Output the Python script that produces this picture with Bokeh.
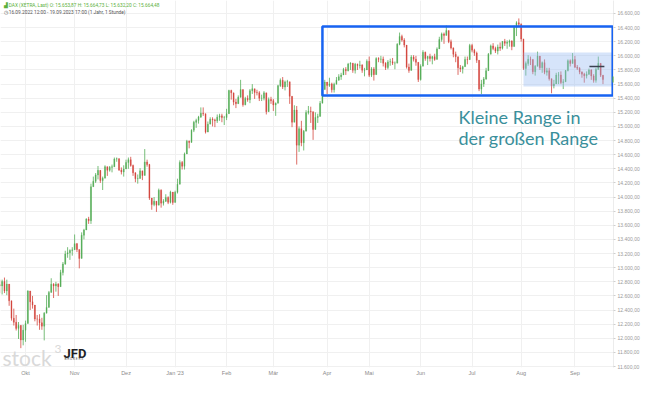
import numpy as np
import pandas as pd
from bokeh.plotting import figure
from bokeh.models import Range1d, FixedTicker, Label
from bokeh.embed import file_html
from bokeh.resources import INLINE

# ---------------- data (DAX, XETRA, daily OHLC) ----------------
first_open = 12760
holidays = ["2022-12-26", "2023-04-07", "2023-04-10", "2023-05-01"]

close = [
    12741, 12803, 12671, 12767, 12531, 12284, 12227, 12140, 12183, 11976, 12114,
    12209, 12670, 12517, 12471, 12273, 12272, 12220, 12172, 12355, 12437, 12649, 12766, 12741, 12767, 12731, 12931, 13052, 13195, 13211, 13243, 13253,
    13339, 13257, 13131, 13460, 13533, 13688, 13666, 14146, 14224, 14313, 14378, 14234, 14267, 14431, 14380, 14422, 14428, 14539, 14541, 14383, 14355, 14397,
    14490, 14529, 14447, 14343, 14261, 14264, 14371, 14306, 14497, 14460, 13987, 13893, 13942, 13885, 14098, 13914, 13941, 13995, 13925, 14071, 13924,
    14069, 14181, 14490, 14436, 14610, 14792, 14774, 14948, 15058, 15086, 15134, 15187, 15181, 14920, 15033, 15103, 15093, 15081, 15132, 15150, 15126, 15128,
    15180, 15509, 15476, 15345, 15321, 15412, 15523, 15308, 15397, 15380, 15507, 15534, 15482, 15477, 15399, 15400, 15476, 15210, 15382, 15365,
    15305, 15328, 15578, 15654, 15559, 15631, 15633, 15428, 15060, 15233, 14735, 14968, 14768, 14933, 15196, 15216, 15210, 14957, 15128, 15142, 15329, 15522, 15629,
    15581, 15603, 15520, 15598, 15655, 15704, 15729, 15808, 15790, 15883, 15896, 15795, 15882, 15864, 15872, 15796, 15800, 15922,
    15726, 15815, 15734, 15961, 15953, 15955, 15896, 15834, 15914, 15917, 15897, 15897, 16163, 16275, 16223, 16153, 15842, 15794, 15983, 15952, 15909, 15664,
    15853, 16051, 15963, 15992, 15961, 15989, 15950, 16098, 16231, 16311, 16290, 16358, 16201, 16111, 16023, 15988, 15830, 15813, 15846, 15949, 15946, 16148,
    16081, 16039, 15938, 15529, 15603, 15673, 15790, 16023, 16141, 16105, 16068, 16125, 16109, 16204, 16177, 16191, 16211, 16131, 16406, 16469, 16447,
    16240, 15820, 15893, 15952, 15950, 15775, 15852, 15997, 15832, 15904, 15768, 15789, 15677, 15574, 15603, 15728, 15729, 15622, 15632, 15792, 15931, 15892, 15947,
    15840, 15825, 15772, 15741, 15718, 15740, 15800, 15715, 15654, 15805, 15894, 15727, 15664.48,
]
high = [
    12830, 12830, 12860, 12830, 12650, 12520, 12420, 12330, 12230, 12130, 12190,
    12250, 12680, 12620, 12600, 12450, 12330, 12340, 12290, 12370, 12610, 12670, 12850, 12780, 12800, 12780, 12970, 13080, 13240, 13290, 13260, 13290,
    13470, 13350, 13200, 13500, 13550, 13700, 13720, 14190, 14290, 14340, 14440, 14380, 14290, 14450, 14420, 14440, 14460, 14560, 14560, 14550, 14420, 14450,
    14530, 14560, 14570, 14460, 14350, 14320, 14410, 14370, 14680, 14530, 14470, 13970, 14000, 13930, 14120, 14110, 13970, 14040, 14010, 14090, 14070,
    14090, 14260, 14520, 14510, 14630, 14810, 14800, 14960, 15080, 15110, 15150, 15270, 15270, 15110, 15070, 15130, 15130, 15110, 15170, 15180, 15180, 15150,
    15250, 15520, 15520, 15420, 15390, 15440, 15660, 15460, 15420, 15440, 15530, 15600, 15510, 15520, 15500, 15450, 15500, 15390, 15410, 15420,
    15390, 15340, 15590, 15680, 15700, 15650, 15660, 15540, 15330, 15300, 15290, 15000, 15080, 14950, 15230, 15290, 15280, 15160, 15200, 15180, 15360, 15540, 15660,
    15620, 15690, 15620, 15620, 15700, 15740, 15760, 15830, 15840, 15900, 15910, 15900, 15900, 15890, 15930, 15880, 15830, 15950,
    15990, 15840, 15840, 15980, 15980, 16000, 15990, 15910, 15940, 15960, 15970, 15920, 16180, 16330, 16300, 16250, 16130, 15890, 16010, 16010, 16000, 15870,
    15880, 16080, 16060, 16000, 16030, 16000, 16030, 16120, 16270, 16330, 16330, 16430, 16330, 16230, 16120, 16060, 15960, 15870, 15860, 15990, 15990, 16170,
    16170, 16100, 16060, 15940, 15660, 15700, 15830, 16040, 16160, 16180, 16130, 16160, 16190, 16210, 16240, 16220, 16230, 16220, 16430, 16490, 16530,
    16460, 16240, 15920, 16010, 15990, 15920, 15870, 16060, 15970, 15920, 15950, 15830, 15830, 15640, 15660, 15760, 15770, 15780, 15670, 15800, 15950, 15950, 16040,
    16000, 15870, 15840, 15780, 15760, 15780, 15820, 15810, 15740, 15830, 15990, 15820, 15720,
]
low = [
    12640, 12620, 12640, 12610, 12460, 12250, 12180, 12110, 11990, 11860, 11900,
    11950, 12400, 12400, 12420, 12240, 12180, 12120, 12120, 11970, 12380, 12460, 12680, 12570, 12660, 12600, 12750, 12890, 13040, 13140, 13110, 13170,
    13300, 13220, 12990, 13140, 13400, 13540, 13620, 13620, 14150, 14200, 14250, 14200, 14100, 14270, 14300, 14360, 14350, 14440, 14500, 14370, 14320, 14290,
    14410, 14400, 14430, 14300, 14210, 14190, 14260, 14240, 14330, 14430, 13960, 13820, 13870, 13790, 13910, 13850, 13880, 13930, 13900, 13910, 13890,
    13950, 14050, 14250, 14390, 14390, 14640, 14690, 14800, 14920, 14980, 15040, 15120, 15150, 14900, 14950, 15040, 15000, 14990, 15050, 15080, 15060, 15020,
    15090, 15290, 15380, 15300, 15260, 15340, 15480, 15280, 15300, 15350, 15330, 15460, 15390, 15440, 15360, 15360, 15370, 15170, 15280, 15320,
    15220, 15150, 15370, 15560, 15530, 15510, 15560, 15320, 14990, 15070, 14460, 14640, 14720, 14660, 14990, 15170, 15050, 14810, 15010, 15050, 15200, 15380, 15550,
    15460, 15560, 15480, 15480, 15600, 15650, 15660, 15730, 15730, 15780, 15800, 15760, 15750, 15800, 15820, 15760, 15710, 15800,
    15700, 15700, 15650, 15780, 15910, 15900, 15850, 15800, 15810, 15860, 15870, 15810, 15950, 16150, 16200, 16120, 15820, 15760, 15800, 15920, 15860, 15630,
    15650, 15900, 15930, 15870, 15920, 15880, 15930, 15980, 16110, 16200, 16170, 16290, 16180, 16090, 15980, 15910, 15730, 15770, 15750, 15870, 15880, 15990,
    16050, 16000, 15900, 15500, 15460, 15560, 15660, 15800, 16040, 16080, 16040, 16020, 16070, 16090, 16140, 16100, 16130, 16080, 16150, 16280, 16420,
    16200, 15800, 15720, 15860, 15870, 15740, 15720, 15870, 15800, 15760, 15740, 15720, 15650, 15470, 15540, 15620, 15600, 15600, 15530, 15670, 15780, 15850, 15900,
    15830, 15800, 15740, 15690, 15620, 15680, 15730, 15660, 15620, 15620, 15820, 15700, 15600,
]

month_labels = ["Okt", "Nov", "Dez", "Jan '23", "Feb", "Mär", "Apr", "Mai", "Jun", "Jul", "Aug", "Sep"]
price_ticks = list(range(11600, 16601, 200))
header_ohlc = [15653.87, 15664.73, 15632.20, 15664.48]

big_range_start = "2023-03-30"
big_range = [15440, 16415]
small_range_start = "2023-08-02"
small_range = [15566, 16048]
marker_start, marker_end = "2023-09-11", "2023-09-19"
marker_level = 15850

# ---------------- derived table ----------------
dates = pd.bdate_range("2022-09-16", "2023-09-19", freq="C", holidays=holidays)
n = len(dates)
assert n == len(close) == len(high) == len(low), (n, len(close), len(high), len(low))
idx = np.arange(n)
c = np.array(close, dtype=float)
o = np.concatenate([[first_open], c[:-1]])
h = np.maximum(np.array(high, dtype=float), np.maximum(o, c))
l = np.minimum(np.array(low, dtype=float), np.minimum(o, c))
up = c >= o
GREEN, RED = "#56ad58", "#d4473f"
cols = np.where(up, GREEN, RED)

month_starts = [i for i in range(1, n) if dates[i].month != dates[i - 1].month]
def pos(d):
    return int(dates.get_loc(pd.Timestamp(d)))

def de(v):
    return f"{v:,.2f}".replace(",", "X").replace(".", ",").replace("X", ".")

# ---------------- figure ----------------
W, H = 650, 393
FB = 26          # bottom border
FR = 37          # right border
FH = H - FB      # frame height
x0, x1 = 0.3, 262.5

p = figure(width=W, height=H, x_range=Range1d(x0, x1), y_range=Range1d(11586, 16784),
           output_backend="svg", toolbar_location=None, y_axis_location="right",
           min_border_left=0, min_border_top=0, min_border_right=FR, min_border_bottom=FB,
           outline_line_color=None, background_fill_color="white", border_fill_color="white")

p.xaxis.ticker = FixedTicker(ticks=month_starts)
p.xaxis.major_label_overrides = {int(i): lab for i, lab in zip(month_starts, month_labels)}
p.xaxis.axis_line_color = None
p.xaxis.major_tick_line_color = None
p.xaxis.major_tick_out = 0
p.xaxis.major_tick_in = 0
p.xaxis.minor_tick_line_color = None
p.xaxis.minor_tick_out = 0
p.xaxis.major_label_text_font_size = "5.5px"
p.xaxis.major_label_text_color = "#8a8a8a"
p.xaxis.major_label_standoff = 2

p.yaxis.ticker = FixedTicker(ticks=price_ticks)
p.yaxis.major_label_overrides = {t: de(t) for t in price_ticks}
p.yaxis.axis_line_color = "#ececec"
p.yaxis.major_tick_line_color = "#cfcfcf"
p.yaxis.major_tick_out = 2
p.yaxis.major_tick_in = 0
p.yaxis.minor_tick_line_color = None
p.yaxis.major_label_text_font_size = "5px"
p.yaxis.major_label_text_color = "#9a9a9a"
p.yaxis.major_label_standoff = 2

p.xgrid.grid_line_color = "#f0f0f0"
p.ygrid.grid_line_color = "#f0f0f0"

# candles
p.segment(x0=idx, y0=l, x1=idx, y1=h, line_color=cols, line_width=0.8)
p.vbar(x=idx, width=0.45, top=np.maximum(o, c), bottom=np.minimum(o, c),
       fill_color=cols, line_color=cols, line_width=0.3)

# small range (translucent, over candles)
p.quad(left=[pos(small_range_start)], right=[x1 - 0.35], bottom=[small_range[0]], top=[small_range[1]],
       fill_color="#98bbf2", fill_alpha=0.4, line_color=None)
# big range frame
p.quad(left=[pos(big_range_start)], right=[x1 - 0.35], bottom=[big_range[0]], top=[big_range[1]],
       fill_color=None, line_color="#1763f2", line_width=2.5)
# short horizontal marker
p.segment(x0=[pos(marker_start) + 0.2], y0=[marker_level], x1=[pos(marker_end) + 0.6], y1=[marker_level],
          line_color="#3a4250", line_width=1.4)

# annotation text
for txt, top_px in [("Kleine Range in", 116), ("der großen Range", 137)]:
    p.add_layout(Label(x=458, y=FH - top_px, x_units="screen", y_units="screen", text=txt,
                       text_font="Lato", text_font_size="18px", text_color="#3a8f9b",
                       text_baseline="alphabetic"))

# header
hdr = "DAX (XETRA, Last)  O: {}  H: {}  L: {}  C: {}".format(*[de(v) for v in header_ohlc])
p.add_layout(Label(x=3, y=FH - 5, x_units="screen", y_units="screen", text="▟ " + hdr,
                   text_font="Roboto", text_font_size="4.8px", text_color="#5cb03c", text_baseline="middle"))
p.add_layout(Label(x=3, y=FH - 12, x_units="screen", y_units="screen",
                   text="◷ {} 12:00 - {} 17:00   (1 Jahr, 1 Stunde)".format(
                       dates[0].strftime("%d.%m.%Y"), dates[-1].strftime("%d.%m.%Y")),
                   text_font="Roboto", text_font_size="4.8px", text_color="#555555", text_baseline="middle"))

# last price tag
p.add_layout(Label(x=612, y=c[-1], x_units="screen", y_units="data", text=de(c[-1]),
                   text_font="Roboto", text_font_size="5px", text_color="white", text_baseline="middle",
                   background_fill_color="#5aae2a", padding=1))

# logos
p.add_layout(Label(x=2, y=FH - 357, x_units="screen", y_units="screen", text="stock",
                   text_font="Lato", text_font_size="21px", text_color="#d9d9d9", text_baseline="alphabetic"))
p.add_layout(Label(x=54, y=FH - 348, x_units="screen", y_units="screen", text="3",
                   text_font="Lato", text_font_size="12px", text_color="#d9d9d9", text_baseline="alphabetic"))
p.add_layout(Label(x=63, y=FH - 353, x_units="screen", y_units="screen", text="JFD",
                   text_font="Roboto", text_font_style="bold", text_font_size="13px", text_color="#1e1e24",
                   text_baseline="alphabetic"))
p.add_layout(Label(x=64, y=FH - 358, x_units="screen", y_units="screen", text="B R O K E R S",
                   text_font="Roboto", text_font_size="3.2px", text_color="#555555", text_baseline="alphabetic"))

open("out.html", "w").write(file_html(p, INLINE))
